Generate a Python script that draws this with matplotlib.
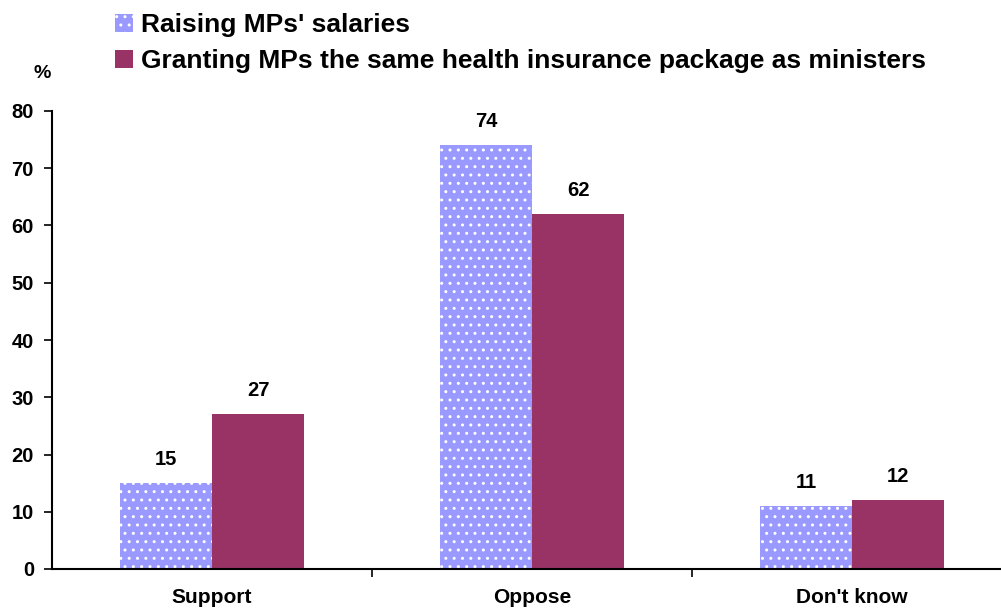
import matplotlib
matplotlib.use('Agg')
import matplotlib.pyplot as plt
import numpy as np

categories = ['Support', 'Oppose', "Don't know"]
salaries = [15, 74, 11]
health = [27, 62, 12]
series_names = ["Raising MPs' salaries",
                'Granting MPs the same health insurance package as ministers']

plt.rcParams['font.family'] = ['Liberation Sans', 'DejaVu Sans']
plt.rcParams['font.weight'] = 'bold'
plt.rcParams['hatch.linewidth'] = 1.0

fig = plt.figure(figsize=(10.01, 6.13), dpi=100)
ax = fig.add_axes([52 / 1001, 1 - 569 / 613, 960 / 1001, 458 / 613])

x = np.arange(len(categories))
w = 0.2875
b1 = ax.bar(x - w / 2, salaries, w, color='#9999FF', edgecolor='white',
            linewidth=0, hatch='..', label=series_names[0])
b2 = ax.bar(x + w / 2, health, w, color='#993366', linewidth=0,
            label=series_names[1])

# value labels above each bar
for bars, vals in ((b1, salaries), (b2, health)):
    for r, v in zip(bars, vals):
        ax.text(r.get_x() + r.get_width() / 2, v + 2.5, str(v),
                ha='center', va='bottom', fontsize=14.5, fontweight='bold')

ax.set_xlim(-0.5, 2.5)
ax.set_ylim(0, 80)
ax.set_yticks(range(0, 81, 10))
ax.set_xticks([0.5, 1.5])
ax.set_xticklabels([])
ax.set_xticks(x, minor=True)
ax.set_xticklabels(categories, minor=True)
ax.tick_params(axis='x', which='minor', length=0, pad=14, labelsize=15)
ax.tick_params(axis='x', which='major', length=6, width=1.2, direction='out')
ax.tick_params(axis='y', length=6, width=1.2, direction='out', labelsize=14.5, pad=7)
for s in ('top', 'right'):
    ax.spines[s].set_visible(False)
ax.spines['left'].set_linewidth(1.5)
ax.spines['bottom'].set_linewidth(1.5)

fig.text(42 / 1001, 1 - 73 / 613, '%', ha='center', va='center',
         fontsize=14, fontweight='bold')

fig.legend(loc='upper left', bbox_to_anchor=(102 / 1001, 1.0), frameon=False,
           fontsize=19, handlelength=0.68, handleheight=0.68, handletextpad=0.3,
           labelspacing=0.45, borderaxespad=0.1)

fig.savefig('out.png', dpi=100)
